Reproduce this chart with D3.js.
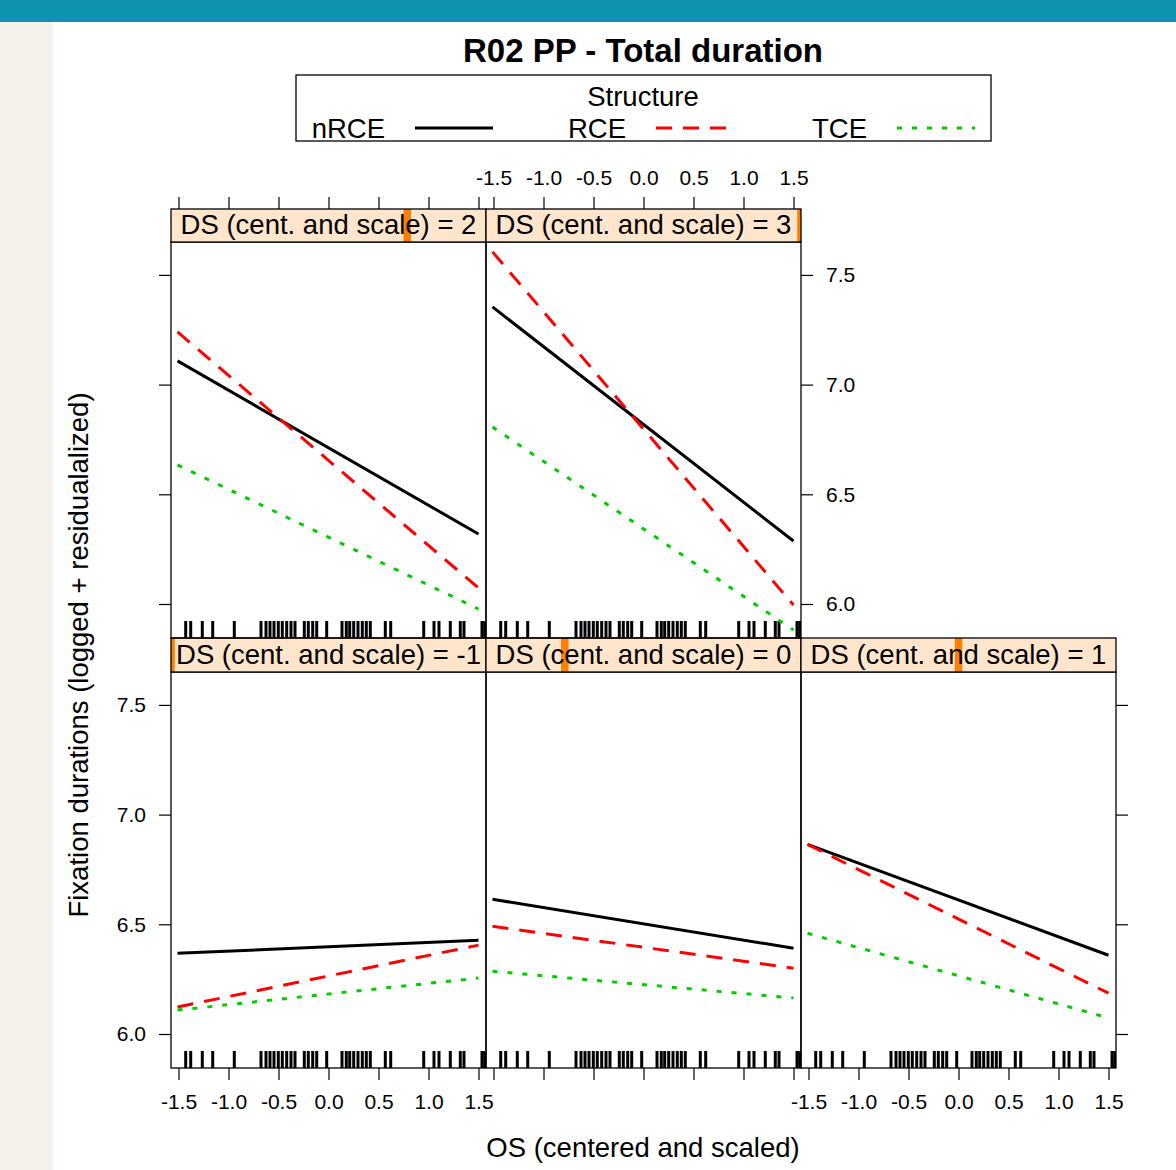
<!DOCTYPE html>
<html><head><meta charset="utf-8">
<script src="https://cdn.jsdelivr.net/npm/d3@7"></script>
<style>
body{margin:0;background:#fff;}
svg{display:block;}
text{font-family:"Liberation Sans", Arial, Helvetica, sans-serif;}
</style>
</head><body>
<svg id="c" width="1176" height="1170"></svg>
<script>
// ---------------- data ----------------
const dsLevels = [-1, 0, 1, 2, 3];
const structures = ["nRCE", "RCE", "TCE"];
const osEnds = [-1.51, 1.50];
// predicted values at osEnds, one pair per DS level
const nRCE = [[6.368, 6.427], [6.614, 6.391], [6.864, 6.359], [7.108, 6.319], [7.354, 6.287]];
const RCE  = [[6.123, 6.405], [6.491, 6.300], [6.864, 6.186], [7.240, 6.073], [7.605, 5.995]];
const TCE  = [[6.109, 6.255], [6.286, 6.164], [6.459, 6.073], [6.634, 5.977], [6.807, 5.881]];
const xTicks = [-1.5, -1.0, -0.5, 0.0, 0.5, 1.0, 1.5];
const yTicks = [6.0, 6.5, 7.0, 7.5];
const rugOS = [-1.428, -1.378, -1.262, -1.158, -0.942, -0.675, -0.625, -0.585, -0.545, -0.502,
  -0.462, -0.418, -0.375, -0.335, -0.242, -0.202, -0.158, -0.118, -0.018, 0.135, 0.178, 0.212,
  0.252, 0.295, 0.338, 0.378, 0.418, 0.568, 0.622, 0.952, 1.055, 1.105, 1.218, 1.318, 1.355,
  1.535, 1.562];
const title = "R02 PP - Total duration";
const xLabel = "OS (centered and scaled)";
const yLabel = "Fixation durations (logged + residualalized)";
const legendTitle = "Structure";

// ---------------- styles ----------------
const seriesStyle = {
  nRCE: {color: "#000000", dash: null},
  RCE:  {color: "#FF0000", dash: "16,11"},
  TCE:  {color: "#00CC00", dash: "5,10"}
};
const seriesData = {nRCE, RCE, TCE};
const FONT = "'Liberation Sans', Arial, Helvetica, sans-serif";

const svg = d3.select("#c");

// page background
svg.append("rect").attr("x", 0).attr("y", 0).attr("width", 1176).attr("height", 1170).attr("fill", "#fff");
svg.append("rect").attr("x", 0).attr("y", 22).attr("width", 53).attr("height", 1148).attr("fill", "#F5F2EB");
svg.append("rect").attr("x", 0).attr("y", 0).attr("width", 1176).attr("height", 22).attr("fill", "#0E93AE");

// layout
const panelW = 315, panelH = 396;
const colX = [171, 486, 801];
const rowPanelTop = [242, 672];
const rowStripTop = [209, 638];

const x = d3.scaleLinear().domain([-1.575, 1.575]).range([0, panelW]);
const y = d3.scaleLinear().domain([5.845, 7.65]).range([panelH, 0]);
const dsScale = d3.scaleLinear().domain(d3.extent(dsLevels)).range([0, panelW]);

const fmt = d => d.toFixed(1);

// which axes to draw for each panel (index in dsLevels)
const axesSpec = {
  0: {left: true, bottom: true},
  1: {bottom: false},
  2: {right: false, bottom: true},
  3: {left: false, top: false},
  4: {right: true, top: true}
};

const line = d3.line().x(d => x(d[0])).y(d => y(d[1]));

dsLevels.forEach((ds, i) => {
  const col = i % 3;
  const row = i < 3 ? 1 : 0;
  const px = colX[col], py = rowPanelTop[row], sy = rowStripTop[row];
  const stripH = py - sy;
  const g = svg.append("g").attr("transform", `translate(${px},${py})`);

  const clipId = "clip" + i;
  svg.append("clipPath").attr("id", clipId)
    .append("rect").attr("x", 0).attr("y", 0).attr("width", panelW).attr("height", panelH);

  const inner = g.append("g").attr("clip-path", `url(#${clipId})`);

  // rug
  inner.selectAll("line.rug").data(rugOS).join("line")
    .attr("x1", d => x(d)).attr("x2", d => x(d))
    .attr("y1", panelH).attr("y2", panelH - 17)
    .attr("stroke", "#000").attr("stroke-width", 3);

  // lines
  structures.forEach(s => {
    const vals = seriesData[s][i];
    const pts = osEnds.map((o, k) => [o, vals[k]]);
    const st = seriesStyle[s];
    inner.append("path").datum(pts).attr("d", line)
      .attr("fill", "none").attr("stroke", st.color).attr("stroke-width", 3)
      .attr("stroke-dasharray", st.dash);
  });

  // panel border
  g.append("rect").attr("x", 0).attr("y", 0).attr("width", panelW).attr("height", panelH)
    .attr("fill", "none").attr("stroke", "#000").attr("stroke-width", 1.3);

  // strip
  const sg = svg.append("g").attr("transform", `translate(${px},${sy})`);
  const sclip = "sclip" + i;
  svg.append("clipPath").attr("id", sclip)
    .append("rect").attr("x", 0).attr("y", 0).attr("width", panelW).attr("height", stripH);
  sg.append("rect").attr("width", panelW).attr("height", stripH).attr("fill", "#FFE5CC");
  sg.append("rect").attr("clip-path", `url(#${sclip})`)
    .attr("x", dsScale(ds) - 3.75).attr("y", 0).attr("width", 7.5).attr("height", stripH)
    .attr("fill", "#FF7F00");
  sg.append("text").attr("x", panelW / 2).attr("y", stripH / 2 + 8.8)
    .attr("text-anchor", "middle").attr("font-size", 27.5).attr("fill", "#000")
    .text(`DS (cent. and scale) = ${ds}`);
  sg.append("rect").attr("width", panelW).attr("height", stripH)
    .attr("fill", "none").attr("stroke", "#000").attr("stroke-width", 1.3);

  // axes
  const spec = axesSpec[i];
  const styleAxis = (ag) => {
    ag.select(".domain").remove();
    ag.attr("font-family", FONT).attr("font-size", 21);
    ag.selectAll(".tick line").attr("stroke", "#000").attr("stroke-width", 1.2);
    ag.selectAll(".tick text").attr("fill", "#000");
  };
  if ("left" in spec) {
    g.append("g").call(d3.axisLeft(y).tickValues(yTicks).tickSize(12).tickPadding(13)
      .tickFormat(spec.left ? fmt : () => "")).call(styleAxis);
  }
  if ("right" in spec) {
    g.append("g").attr("transform", `translate(${panelW},0)`)
      .call(d3.axisRight(y).tickValues(yTicks).tickSize(12).tickPadding(13)
      .tickFormat(spec.right ? fmt : () => "")).call(styleAxis);
  }
  if ("bottom" in spec) {
    g.append("g").attr("transform", `translate(0,${panelH})`)
      .call(d3.axisBottom(x).tickValues(xTicks).tickSize(12).tickPadding(14)
      .tickFormat(spec.bottom ? fmt : () => "")).call(styleAxis);
  }
  if ("top" in spec) {
    g.append("g").attr("transform", `translate(0,${-stripH})`)
      .call(d3.axisTop(x).tickValues(xTicks).tickSize(12).tickPadding(12)
      .tickFormat(spec.top ? fmt : () => "")).call(styleAxis);
  }
});

// title
svg.append("text").attr("x", 643).attr("y", 62).attr("text-anchor", "middle")
  .attr("font-size", 33).attr("font-weight", "bold").attr("fill", "#000").text(title);

// axis titles
svg.append("text").attr("x", 643).attr("y", 1157).attr("text-anchor", "middle")
  .attr("font-size", 27.5).attr("fill", "#000").text(xLabel);
svg.append("text").attr("transform", "translate(88,655) rotate(-90)").attr("text-anchor", "middle")
  .attr("font-size", 27.5).attr("fill", "#000").text(yLabel);

// legend
const lg = svg.append("g").attr("transform", "translate(296,75)");
lg.append("rect").attr("width", 695).attr("height", 66).attr("fill", "#fff")
  .attr("stroke", "#000").attr("stroke-width", 1.3);
lg.append("text").attr("x", 347).attr("y", 31).attr("text-anchor", "middle")
  .attr("font-size", 27.5).attr("fill", "#000").text(legendTitle);
structures.forEach((s, k) => {
  const base = 119 + k * 241;
  const st = seriesStyle[s];
  lg.append("text").attr("x", base - 30).attr("y", 63).attr("text-anchor", "end")
    .attr("font-size", 27.5).attr("fill", "#000").text(s);
  lg.append("line").attr("x1", base).attr("x2", base + 78).attr("y1", 53).attr("y2", 53)
    .attr("stroke", st.color).attr("stroke-width", 3).attr("stroke-dasharray", st.dash);
});
</script>
</body></html>
